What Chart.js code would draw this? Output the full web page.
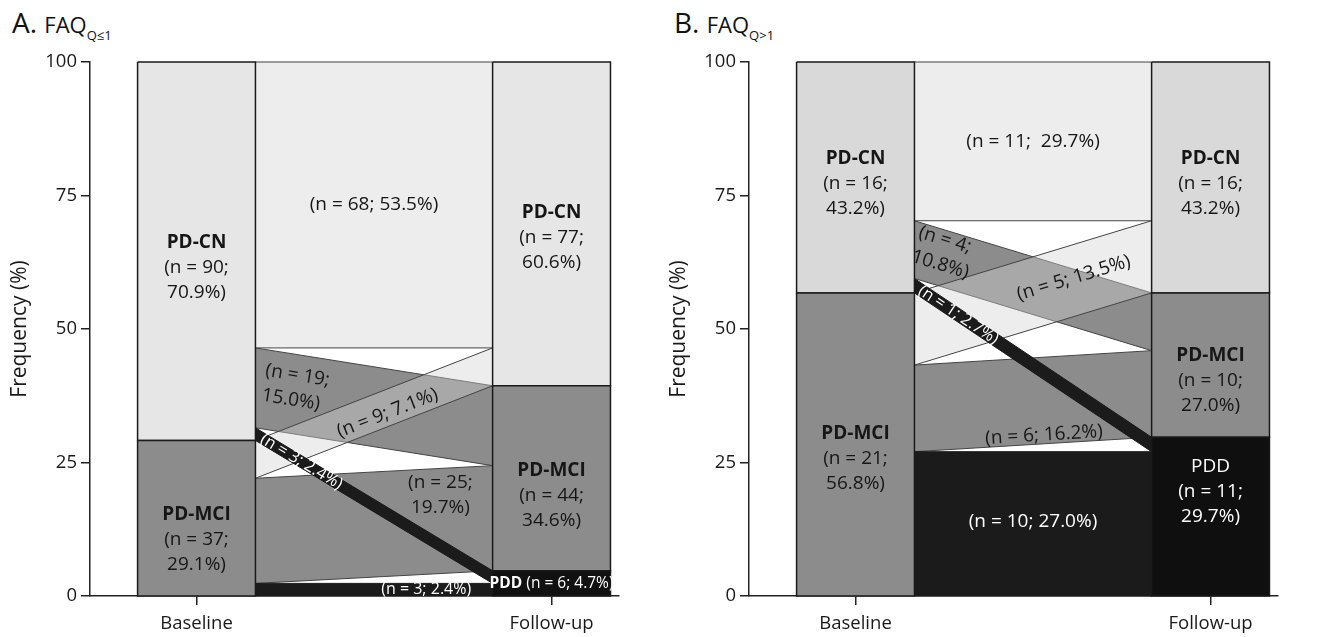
<!DOCTYPE html>
<html>
<head>
<meta charset="utf-8">
<title>FAQ alluvial</title>
<script src="https://cdn.jsdelivr.net/npm/chart.js"></script>
<style>
    body { margin: 0; background: #fff; font-family: 'Open Sans', sans-serif; }
    .panel { position: absolute; top: 0; width: 650px; height: 637px; }
    .ttl { position: absolute; top: 8px; font-size: 28px; line-height: 28px; color: #111; white-space: nowrap; }
    .ttl span { font-size: 22px; }
    .ttl sub { font-size: 13px; vertical-align: baseline; position: relative; top: 7px; }
</style>
</head>
<body>
    <div class="ttl" style="left:12px">A. <span>FAQ<sub>Q≤1</sub></span></div>
    <div class="ttl" style="left:674px">B. <span>FAQ<sub>Q&gt;1</sub></span></div>
    <div class="panel" style="left:0"><canvas id="chartA"></canvas></div>
    <div class="panel" style="left:659px"><canvas id="chartB"></canvas></div>
<script>
    // categories
    var stages = ['PD-CN', 'PD-MCI', 'PDD'];
    var timepoints = ['Baseline', 'Follow-up'];
    var yTicks = [0, 25, 50, 75, 100];

    // A. FAQ Q<=1 (counts per stage, baseline and follow-up)
    var baselineA = [90, 37, 0];
    var followupA = [77, 44, 6];
    // transitions: row = baseline stage, col = follow-up stage
    var flowsA = [
        [68, 19, 3],
        [9, 25, 3],
        [0, 0, 0]
    ];

    // B. FAQ Q>1
    var baselineB = [16, 21, 0];
    var followupB = [16, 10, 11];
    var flowsB = [
        [11, 4, 1],
        [5, 6, 10],
        [0, 0, 0]
    ];

    var HW = 0.166; // half bar width in x units
    var flowColors = ['rgba(210,210,210,0.4)', '#8c8c8c', '#1b1b1b'];
    var flowBorders = ['#444', '#444', '#1b1b1b'];
    var font = "'Open Sans', sans-serif";
    var LBL = 19;

    // label placement / style (not data)
    var labelStyleA = {
        bar: { '0-0': {dy: -3.1}, '0-1': {dy: -4}, '1-0': {dy: -2.5}, '1-1': {dy: -3.3}, '1-2': {inline: true, size: 15.5} },
        flow: {
            '0-0': {t: 0.5},
            '0-1': {t: 0.035, align: 'left', rot: true, dy: 1.2, wrap: true},
            '0-2': {t: 0.194, rot: true, size: 16.5},
            '1-0': {t: 0.557, rot: true, dy: -1},
            '1-1': {t: 0.78, dy: 4.9, wrap: true},
            '1-2': {t: 0.72, size: 16, dy: 0.1}
        }
    };
    var labelStyleB = {
        bar: { '0-0': {dy: -1.1}, '0-1': {dy: -2.7}, '1-0': {dy: -1.1}, '1-1': {dy: -2.85}, '1-2': {dy: 4.65, plain: true} },
        flow: {
            '0-0': {t: 0.5, sep: '  '},
            '0-1': {t: 0.005, align: 'left', rot: true, dy: 1.1, wrap: true},
            '0-2': {t: 0.185, rot: true, size: 16.5},
            '1-0': {t: 0.672, rot: true, dy: 0.45},
            '1-1': {t: 0.546, rot: true, dy: -6.5},
            '1-2': {t: 0.5, dy: 0.5}
        }
    };

    function poly(x0, x1, t0, b0, t1, b1) {
        return [{x: x0, y: t0}, {x: x1, y: t1}, {x: x1, y: b1}, {x: x0, y: b0}, {x: x0, y: t0}];
    }

    function buildPanel(id, base, fu, flows, barColors, style) {
        var total = base.reduce(function (a, b) { return a + b; }, 0);
        var pct = function (n) { return n / total * 100; };
        var fmt = function (n) { return pct(n).toFixed(1) + '%'; };

        function stack(arr) {
            var top = 100;
            return arr.map(function (n) { var s = {top: top, bot: top - pct(n)}; top -= pct(n); return s; });
        }
        var baseSeg = stack(base), fuSeg = stack(fu);

        var src = [], dst = [];
        stages.forEach(function (_, s) {
            var t = baseSeg[s].top; src[s] = [];
            stages.forEach(function (_, d) { var h = pct(flows[s][d]); src[s][d] = {top: t, bot: t - h}; t -= h; });
        });
        stages.forEach(function (_, d) {
            var t = fuSeg[d].top; dst[d] = [];
            stages.forEach(function (_, s) { var h = pct(flows[s][d]); dst[d][s] = {top: t, bot: t - h}; t -= h; });
        });

        var paint = [], labels = [];
        var flowOrder = [1, 0, 2];
        flowOrder.forEach(function (d) {
            stages.forEach(function (_, s) {
                var n = flows[s][d];
                if (!n) return;
                var a = src[s][d], b = dst[d][s];
                paint.push({
                    data: poly(HW, 1 - HW, a.top, a.bot, b.top, b.bot),
                    backgroundColor: flowColors[d], borderColor: flowBorders[d], borderWidth: 1
                });
                var st = style.flow[s + '-' + d] || {};
                var sep = st.sep || ' ';
                var lines = st.wrap ? [[{text: '(n = ' + n + ';'}], [{text: fmt(n) + ')'}]]
                                    : [[{text: '(n = ' + n + ';' + sep + fmt(n) + ')'}]];
                labels.push({x0: HW, x1: 1 - HW, top0: a.top, bot0: a.bot, top1: b.top, bot1: b.bot,
                    t: st.t, dy: st.dy || 0, rot: st.rot, align: st.align || 'center', size: st.size || LBL,
                    color: d === 2 ? '#fff' : '#161616', lines: lines});
            });
        });
        [base, fu].forEach(function (arr, col) {
            var seg = col === 0 ? baseSeg : fuSeg;
            arr.forEach(function (n, k) {
                if (!n) return;
                paint.push({
                    data: poly(col - HW, col + HW, seg[k].top, seg[k].bot, seg[k].top, seg[k].bot),
                    backgroundColor: barColors[k], borderColor: '#1a1a1a', borderWidth: 1.5
                });
                var st = style.bar[col + '-' + k] || {};
                var lines;
                if (st.inline) lines = [[{text: stages[k], bold: true}, {text: ' (n = ' + n + '; ' + fmt(n) + ')'}]];
                else lines = [[{text: stages[k], bold: !st.plain}], [{text: '(n = ' + n + ';'}], [{text: fmt(n) + ')'}]];
                labels.push({x0: col - HW, x1: col + HW, top0: seg[k].top, bot0: seg[k].bot, top1: seg[k].top, bot1: seg[k].bot,
                    t: 0.5, dy: st.dy || 0, rot: false, align: 'center', size: st.size || LBL,
                    color: k === 2 ? '#fff' : '#161616', lines: lines});
            });
        });

        // first dataset is drawn on top, so reverse the painting order
        var datasets = paint.reverse().map(function (p) {
            return {
                type: 'line', data: p.data, fill: 'shape',
                backgroundColor: p.backgroundColor, borderColor: p.borderColor, borderWidth: p.borderWidth,
                pointRadius: 0, tension: 0, clip: false
            };
        });

        var labelPlugin = {
            id: 'bandLabels',
            afterDatasetsDraw: function (chart) {
                var ctx = chart.ctx, x = chart.scales.x, y = chart.scales.y;
                labels.forEach(function (L) {
                    var c0 = (L.top0 + L.bot0) / 2, c1 = (L.top1 + L.bot1) / 2;
                    var xp = x.getPixelForValue(L.x0 + L.t * (L.x1 - L.x0));
                    var yp = y.getPixelForValue(c0 + (c1 - c0) * L.t + L.dy);
                    var ang = L.rot ? Math.atan2(y.getPixelForValue(c1) - y.getPixelForValue(c0),
                                                 x.getPixelForValue(L.x1) - x.getPixelForValue(L.x0)) : 0;
                    var lh = 25;
                    ctx.save();
                    ctx.translate(xp, yp);
                    ctx.rotate(ang);
                    ctx.textBaseline = 'middle';
                    ctx.textAlign = 'left';
                    ctx.fillStyle = L.color;
                    L.lines.forEach(function (line, i) {
                        var ly = (i - (L.lines.length - 1) / 2) * lh;
                        var w = 0;
                        line.forEach(function (p) {
                            ctx.font = (p.bold ? 'bold ' : '') + L.size + 'px ' + font;
                            p.w = ctx.measureText(p.text).width; w += p.w;
                        });
                        var cx = L.align === 'left' ? 0 : -w / 2;
                        line.forEach(function (p) {
                            ctx.font = (p.bold ? 'bold ' : '') + L.size + 'px ' + font;
                            ctx.fillText(p.text, cx, ly);
                            cx += p.w;
                        });
                    });
                    ctx.restore();
                });
            }
        };

        return new Chart(document.getElementById(id), {
            type: 'line',
            data: {datasets: datasets},
            plugins: [labelPlugin],
            options: {
                responsive: true,
                maintainAspectRatio: false,
                animation: false,
                events: [],
                layout: {padding: {top: 62, right: 31, bottom: 0, left: 0}},
                plugins: {legend: {display: false}, tooltip: {enabled: false}},
                scales: {
                    x: {
                        type: 'linear', min: -0.30, max: 1.19,
                        afterBuildTicks: function (s) { s.ticks = timepoints.map(function (_, i) { return {value: i}; }); },
                        afterFit: function (s) { s.height = 41; },
                        ticks: {
                            callback: function (v) { return timepoints[v]; },
                            font: {family: font, size: 18.5}, color: '#1a1a1a', padding: 8, maxRotation: 0, autoSkip: false
                        },
                        grid: {display: true, drawOnChartArea: false, drawTicks: true, tickLength: 9, color: '#222', lineWidth: 1.5},
                        border: {display: true, color: '#222', width: 1.5}
                    },
                    y: {
                        type: 'linear', min: 0, max: 100,
                        afterBuildTicks: function (s) { s.ticks = yTicks.map(function (v) { return {value: v}; }); },
                        afterFit: function (s) { s.width = 90; },
                        ticks: {font: {family: font, size: 18.5}, color: '#1a1a1a', padding: 4},
                        grid: {display: true, drawOnChartArea: false, drawTicks: true, tickLength: 9, color: '#222', lineWidth: 1.5},
                        border: {display: true, color: '#222', width: 1.5},
                        title: {display: true, text: 'Frequency (%)', font: {family: font, size: 21}, color: '#1a1a1a', padding: {top: 7, bottom: 0}}
                    }
                }
            }
        });
    }

    buildPanel('chartA', baselineA, followupA, flowsA, ['#e6e6e6', '#8c8c8c', '#111111'], labelStyleA);
    buildPanel('chartB', baselineB, followupB, flowsB, ['#d9d9d9', '#8c8c8c', '#0f0f0f'], labelStyleB);
</script>
</body>
</html>
